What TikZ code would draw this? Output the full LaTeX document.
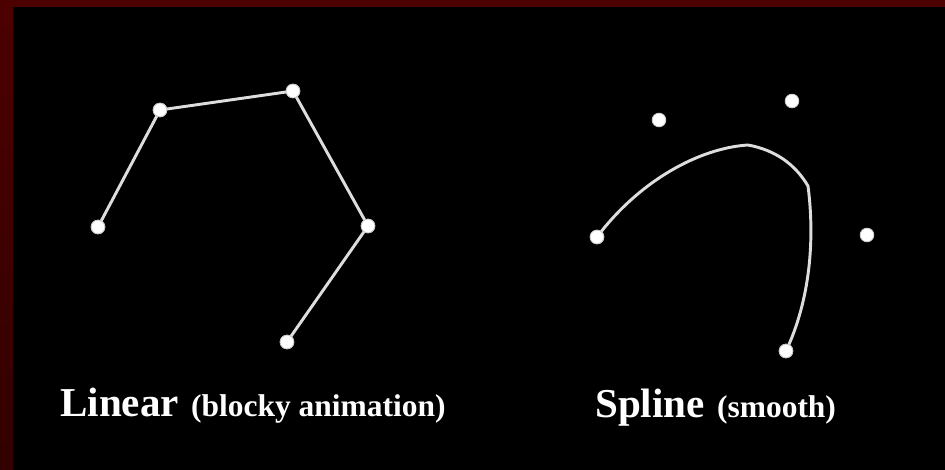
\documentclass[tikz,border=0pt]{standalone}
\usepackage{fontspec}
\setmainfont{Liberation Serif}
\usepackage{xcolor}
\usepackage{tikz}
\usetikzlibrary{positioning, calc}

\definecolor{frametop}{HTML}{4D0000}
\definecolor{framelow}{HTML}{320000}
\definecolor{wire}{HTML}{DDDDDD}

\begin{document}
\begin{tikzpicture}[x=0.75pt, y=-0.75pt,
    keydot/.style={circle, fill=white, draw=gray!45, line width=0.6pt,
                   minimum size=10.3pt, inner sep=0pt},
    wireline/.style={wire, line width=2.2pt, line join=round},
    biglabel/.style={anchor=base west, inner sep=0pt, text=white,
                     font=\bfseries\fontsize{30.8}{34}\selectfont}]
  % background and the dark red frame (top and left edge only)
  \useasboundingbox (0,0) rectangle (945,470);
  \fill[black] (0,0) rectangle (945,470);
  \fill[frametop] (0,0) rectangle (945,7);
  \shade[top color=frametop, bottom color=framelow] (0,0) rectangle (13,470);
  % Linear: key points joined by straight segments
  \foreach \n/\x/\y in {l1/98/227, l2/160/110, l3/293/91, l4/368/226, l5/287/342} {
    \node[keydot] (\n) at (\x,\y) {};
  }
  \draw[wireline] (l1.center) -- (l2.center) -- (l3.center) -- (l4.center) -- (l5.center);
  \foreach \n in {l1,l2,l3,l4,l5} {
    \node[keydot] at (\n) {};
  }
  % Spline: control points, curve only passes through the ends
  \foreach \n/\x/\y in {s1/597/237, s2/659/120, s3/792/101, s4/867/235, s5/786/351} {
    \node[keydot] (\n) at (\x,\y) {};
  }
  \coordinate (top) at (748,145);
  \coordinate (turn) at (808,186);
  \draw[wireline] (s1.center) .. controls (640,180) and (700,148) .. (top)
                              .. controls (775,150) and (795,164) .. (turn)
                              .. controls (815,240) and (810,300) .. (s5.center);
  \foreach \n in {s1,s5} {
    \node[keydot] at (\n) {};
  }
  % captions
  \node[biglabel] (linlabel) at (60,416)
    {Linear\hspace{1.5pt} {\fontsize{23.6}{26}\selectfont (blocky animation)}};
  \node[biglabel] (splabel) at (595,417)
    {Spline\hspace{1.5pt} {\fontsize{23.6}{26}\selectfont (smooth)}};
\end{tikzpicture}
\end{document}
